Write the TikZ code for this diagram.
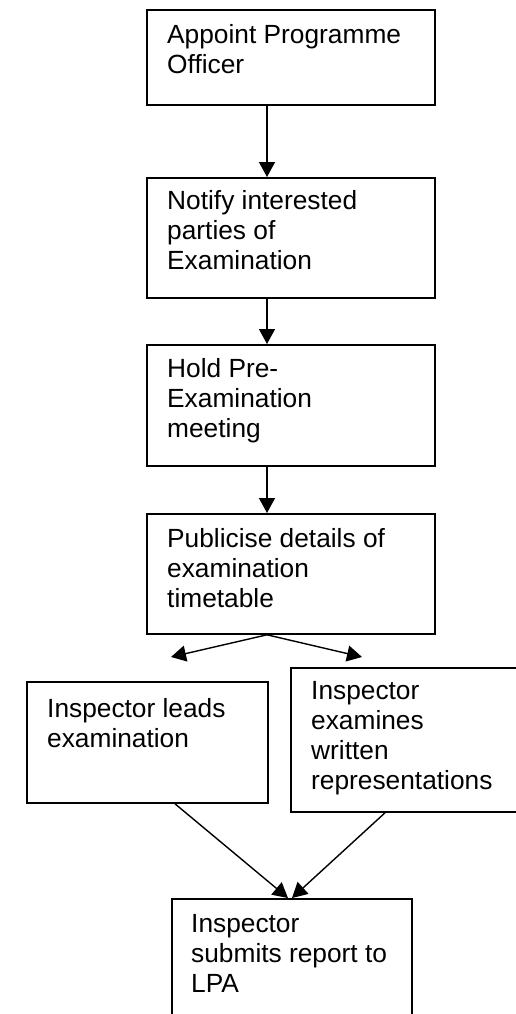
\documentclass[tikz,border=0pt]{standalone}
\usepackage{fontspec}
\setmainfont{Liberation Sans}
\usetikzlibrary{arrows.meta}
\begin{document}
\begin{tikzpicture}[x=1pt,y=-1pt,
  stepbox/.style={draw, line width=1.8pt, anchor=north west, inner sep=0pt},
  steptext/.style={anchor=north west, inner sep=0pt, align=left,
    font=\fontsize{26.3}{30.2}\selectfont},
  flow/.style={line width=1.4pt, -{Triangle[length=15pt,width=16pt]}}]
\useasboundingbox (0,0) rectangle (516,1014);
\clip (0,0) rectangle (516,1014);

% process boxes
\node[stepbox, minimum width=288pt, minimum height=95pt]  (b1) at (146,9)   {};
\node[stepbox, minimum width=288pt, minimum height=120pt] (b2) at (146,177) {};
\node[stepbox, minimum width=288pt, minimum height=121pt] (b3) at (146,344) {};
\node[stepbox, minimum width=288pt, minimum height=120pt] (b4) at (146,513) {};
\node[stepbox, minimum width=241pt, minimum height=121pt] (b5) at (26,681)  {};
\node[stepbox, minimum width=240pt, minimum height=144pt] (b6) at (290,667) {};
\node[stepbox, minimum width=240pt, minimum height=140pt] (b7) at (171,898) {};

% box texts
\node[steptext] (t1) at (167,24)  {Appoint Programme\\Officer};
\node[steptext] (t2) at (167,190) {Notify interested\\parties of\\Examination};
\node[steptext] (t3) at (167,358) {Hold Pre-\\Examination\\meeting};
\node[steptext] (t4) at (167,528) {Publicise details of\\examination\\timetable};
\node[steptext] (t5) at (47,698)  {Inspector leads\\examination};
\node[steptext] (t6) at (311,681) {Inspector\\examines\\written\\representations};
\node[steptext] (t7) at (191,914) {Inspector\\submits report to\\LPA};

% guide positions for the connectors
\coordinate (spine) at (267,0);
\coordinate (splitL) at (171,657);
\coordinate (splitR) at (362,657);
\coordinate (m5) at (175,0);
\coordinate (m6) at (385,0);
\coordinate (j1) at (288,0);
\coordinate (j2) at (292,0);

% connectors
\draw[flow] (b1.south -| spine) -- (b2.north -| spine);
\draw[flow] (b2.south -| spine) -- (b3.north -| spine);
\draw[flow] (b3.south -| spine) -- (b4.north -| spine);
\draw[flow] (b4.south -| spine) -- (splitL);
\draw[flow] (b4.south -| spine) -- (splitR);
\draw[flow] (b5.south -| m5) -- (b7.north -| j1);
\draw[flow] (b6.south -| m6) -- (b7.north -| j2);
\end{tikzpicture}
\end{document}
